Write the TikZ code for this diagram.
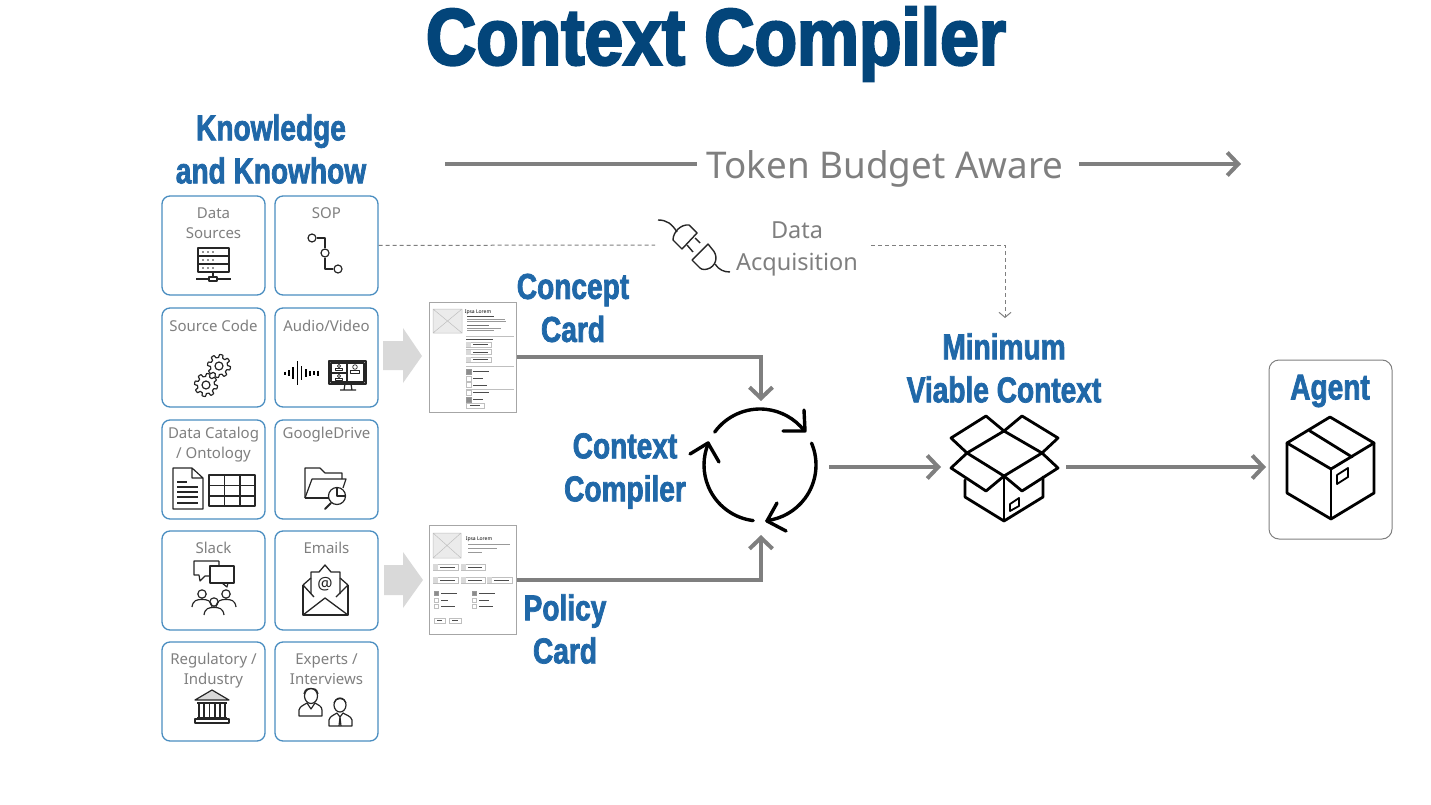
\documentclass[tikz,border=0pt]{standalone}
\usepackage{fontspec}
\usepackage{tikz}
\usetikzlibrary{arrows.meta}
\setmainfont{Noto Sans}
\newfontfamily\headfont[BoldFeatures={FakeStretch=0.78,FakeBold=2}]{Liberation Sans}
\newfontfamily\titlefont[BoldFeatures={FakeStretch=0.87,FakeBold=3}]{Liberation Sans}
\definecolor{titleblue}{HTML}{03457A}
\definecolor{headblue}{HTML}{2068A8}
\definecolor{boxblue}{HTML}{4A8DC0}
\definecolor{flowgray}{HTML}{7F7F7F}
\definecolor{cardgray}{HTML}{A6A6A6}
\definecolor{padgray}{HTML}{D9D9D9}
\tikzset{
    srcbox/.style={draw=boxblue, rounded corners=8, line width=1.3, minimum width=103pt, minimum height=99pt, inner sep=0},
    srctext/.style={anchor=north, inner sep=0, align=center, text=flowgray, font=\fontsize{15}{19.8}\selectfont},
    heading/.style={inner sep=0, align=center, text=headblue, font=\headfont\bfseries\fontsize{36}{43}\selectfont},
    flow/.style={draw=flowgray, line width=4, -{Straight Barb[length=11pt,width=23pt]}},
    dashflow/.style={draw=flowgray, line width=1, dash pattern=on 4pt off 3pt},
    icon/.style={draw=black!85, line width=1.2, line join=round},
    bold/.style={draw=black, line width=2.8, line join=round, line cap=round},
    cycle/.style={draw=black, line width=3.4, line cap=round, line join=round},
    block/.style={fill=padgray, draw=none},
    cardbox/.style={draw=cardgray, fill=white, line width=0.9, inner sep=0},
    ink/.style={draw=black!70, line width=0.8},
    pale/.style={draw=black!40, line width=0.7},
    field/.style={draw=black!25, line width=0.5},
    tick/.style={draw=black!40, fill=black!45, line width=0.5}
}
\newcommand{\gearicon}[2]{
    \draw [icon, shift={(#1,#2)}] plot [samples=121, domain=0:360] (\x:{10+max(-1.5,min(1.5,5*sin(8*\x)))}) -- cycle;
    \draw [icon] (#1,#2) circle (4);
}
\newcommand{\personicon}[2]{
    \draw [icon] (#1,#2) circle (4.2);
    \draw [icon] (#1-10,#2+13) .. controls (#1-9,#2+6) and (#1-5,#2+5.5) .. (#1,#2+5.5) .. controls (#1+5,#2+5.5) and (#1+9,#2+6) .. (#1+10,#2+13);
}
\begin{document}
\begin{tikzpicture}[x=1pt, y=-1pt]
    \useasboundingbox (0,0) rectangle (1431,805);

    \node [inner sep=0, text=titleblue, font=\titlefont\bfseries\fontsize{80}{90}\selectfont] (title) at (716,44) {Context Compiler};
    \node [heading] (knowhow) at (271,149) {Knowledge\\and Knowhow};

    \node [inner sep=0, text=flowgray, font=\fontsize{36.8}{40}\selectfont] (budget) at (885,169) {Token Budget Aware};
    \coordinate (budgetstart) at (445,164);
    \coordinate (budgetleft) at (697,164);
    \coordinate (budgetright) at (1079,164);
    \coordinate (budgetend) at (1241,164);
    \draw [draw=flowgray, line width=4] (budgetstart) -- (budgetleft);
    \draw [flow] (budgetright) -- (budgetend);

    \foreach \nm/\cx/\cy/\ty/\txt in {
        dsrc/213.5/245.5/12.5/{Data\\Sources}, sop/326.5/245.5/12.5/{SOP},
        code/213.5/357.5/12.5/{Source Code}, avid/326.5/357.5/12.5/{Audio/Video},
        catalog/213.5/469.5/8/{Data Catalog\\/ Ontology}, gdrive/326.5/469.5/8/{GoogleDrive},
        slack/213.5/580.5/12/{Slack}, emails/326.5/580.5/12/{Emails},
        regul/213.5/691.5/12/{Regulatory /\\Industry}, experts/326.5/691.5/12/{Experts /\\Interviews}} {
        \node [srcbox] (\nm) at (\cx,\cy) {};
        \node [srctext, yshift=-\ty pt] (\nm txt) at (\nm.north) {\txt};
    }

    % data sources
    \foreach \ry in {248,256,264} {
        \draw [icon] (198,\ry) rectangle (229,\ry+8);
        \foreach \rx in {203,208,213}
            \fill [black!85] (\rx,\ry+4) circle (0.8);
    }
    \draw [icon] (213,272) -- (213,277);
    \draw [icon] (196,279) -- (209,279) (217,279) -- (231,279);
    \draw [icon] (209,277) rectangle (217,281);

    % sop
    \node [icon, circle, inner sep=0, minimum size=8pt] (S1) at (312,238) {};
    \node [icon, circle, inner sep=0, minimum size=8pt] (S2) at (325,253) {};
    \node [icon, circle, inner sep=0, minimum size=8pt] (S3) at (338,269) {};
    \draw [icon] (S1) -| (S2);
    \draw [icon] (S2) |- (S3);

    % source code
    \gearicon{219}{366}
    \gearicon{206}{385}

    % audio, video
    \foreach \wx/\wh in {285/1.5,289/3,293/6,297.5/12,301.5/7,306/4,310/2.5,314/1.7,318/2.5}
        \draw [draw=black, line width=1.6] (\wx,373-\wh) -- (\wx,373+\wh);
    \draw [icon] (329,361) rectangle (366,384);
    \draw [icon] (331,363) rectangle (364,382);
    \draw [icon] (347,363) -- (347,382) (331,373) -- (347,373);
    \draw [icon] (345,384) -- (344,390) (351,384) -- (352,390) (340,390) -- (356,390);
    \foreach \px/\py/\pr in {339/366/1.7,339/376/1.7,355/367/2.3} {
        \draw [icon, line width=0.7] (\px,\py) circle (\pr);
        \draw [icon, line width=0.7] (\px-2*\pr,\py+2.6*\pr) -- (\px-2*\pr,\py+1.3*\pr) -- (\px+2*\pr,\py+1.3*\pr) -- (\px+2*\pr,\py+2.6*\pr) -- cycle;
    }

    % data catalog
    \draw [icon] (192,468) -- (173,468) -- (173,509) -- (203,509) -- (203,478) -- (192,468) -- (192,478) -- (203,478);
    \draw [icon] (177,482) -- (187,482);
    \foreach \ly in {487,492,497,503}
        \draw [icon] (177,\ly) -- (198,\ly);
    \draw [icon] (209,475) rectangle (255,506);
    \draw [icon] (224.5,475) -- (224.5,506) (240,475) -- (240,506) (209,485.5) -- (255,485.5) (209,496) -- (255,496);

    % google drive
    \draw [icon] (305,498) -- (305,468) -- (320,468) -- (325,473) -- (342,473) -- (342,479);
    \draw [icon] (305,498) -- (312,479) -- (346,479) -- (343,488);
    \draw [icon] (305,498) -- (329,498);
    \draw [icon] (337,496) circle (8.5);
    \draw [icon] (337,488) -- (337,496) -- (345,496);
    \draw [draw=black!85, line width=2, line cap=round] (331,503) -- (325,509);

    % slack
    \draw [icon] (210,561) -- (194,561) -- (194,575) -- (199,575) -- (200,581) -- (205,576) -- (210,576) (219,561) -- (210,561) (219,561) -- (219,566);
    \draw [icon, fill=white] (210,566) rectangle (234,583);
    \draw [icon] (222,583) -- (227,587) -- (228,583);
    \personicon{202}{594}
    \personicon{226}{594}
    \personicon{214}{602}

    % emails
    \draw [icon, line width=1.3] (303,585) -- (303,615) -- (348,615) -- (348,585);
    \draw [icon, line width=1.3] (303,585) -- (311,578) (340,578) -- (348,585);
    \draw [icon, line width=1.3] (311,594) -- (311,572) -- (319,572) -- (325,565) -- (331,572) -- (340,572) -- (340,594);
    \draw [icon, line width=1.3] (303,615) -- (325,598) -- (348,615);
    \draw [icon, line width=1.3] (303,585) -- (314,597) (348,585) -- (336,597);
    \node [inner sep=0, font=\fontsize{17}{17}\selectfont, text=black!85] (mailat) at (325,584.5) {@};

    % regulatory
    \draw [icon, fill=black!15] (212,690) -- (195,700) -- (229,700) -- cycle;
    \draw [icon] (197,703) -- (227,703);
    \foreach \bx in {199,204,209.5,215,220,225}
        \draw [icon] (\bx,703) -- (\bx,718);
    \draw [icon] (197,718) -- (227,718);
    \draw [icon] (195,719) rectangle (229,723);

    % experts
    \draw [icon] (311,696) ellipse (6.5 and 7.5);
    \draw [icon] (304,694) .. controls (305,689) and (308,688) .. (311,688.5) .. controls (314,688) and (317,689) .. (318,694);
    \draw [icon] (299,716) -- (299,710) .. controls (300,706) and (304,705) .. (307,703) -- (311,709) -- (315,703) .. controls (318,705) and (322,706) .. (322,710) -- (322,716) -- cycle;
    \draw [icon] (340,705) ellipse (6 and 7);
    \draw [icon] (334,703) .. controls (335,697) and (345,697) .. (346,703);
    \draw [icon] (329,726) -- (329,720) .. controls (330,716) and (334,715) .. (337,713) -- (340,717) -- (343,713) .. controls (346,715) and (351,716) .. (352,720) -- (352,726) -- cycle;
    \draw [icon] (340,717) -- (339,726) (340,717) -- (341,726);

    % block arrows
    \fill [block] (383,341) -- (403,341) -- (403,328) -- (422,356) -- (403,383) -- (403,370) -- (383,370) -- cycle;
    \fill [block] (384,565) -- (403,565) -- (403,552) -- (423,580) -- (403,608) -- (403,595) -- (384,595) -- cycle;

    % concept card
    \node [cardbox, minimum width=87pt, minimum height=110pt] (concept) at (473,357) {};
    \fill [black!8] (433,309) rectangle (462,333);
    \draw [field] (433,309) rectangle (462,333) (433,309) -- (462,333) (433,333) -- (462,309);
    \node [inner sep=0, font=\bfseries\fontsize{5}{5}\selectfont] (cname) at (478,312.5) {Ipsa Lorem};
    \draw [ink, line width=1] (467,316) -- (494,316);
    \draw [pale] (467,319) -- (505,319) (467,321.5) -- (506,321.5);
    \draw [draw=black!55, line width=1] (467,325.5) -- (489,325.5);
    \draw [pale] (467,328) -- (501,328) (467,330.5) -- (494,330.5);
    \draw [field] (466,336) -- (514,336) (466,366) -- (514,366) (466,389) -- (514,389);
    \draw [ink] (466,339) -- (493,339);
    \foreach \fy in {342,349.5,357} {
        \draw [field] (466,\fy) rectangle (491,\fy+5);
        \fill [black!15] (466,\fy) rectangle (471,\fy+5);
        \draw [ink] (473,\fy+2.5) -- (488,\fy+2.5);
    }
    \foreach \cy/\ce/\cf in {369/489/tick,376/483/field,382.5/487/field,390/489/field,397/483/tick} {
        \draw [\cf] (466,\cy) rectangle (471,\cy+5);
        \draw [ink] (473,\cy+2.5) -- (\ce,\cy+2.5);
    }
    \draw [field] (466,403) rectangle (484,408);
    \draw [ink, line width=0.5] (470,405.5) -- (480,405.5);

    % policy card
    \node [cardbox, minimum width=87pt, minimum height=109pt] (policy) at (473,580) {};
    \fill [black!8] (433,533) rectangle (461,558);
    \draw [field] (433,533) rectangle (461,558) (433,533) -- (461,558) (433,558) -- (461,533);
    \node [inner sep=0, font=\bfseries\fontsize{5}{5}\selectfont] (pname) at (479,539) {Ipsa Lorem};
    \draw [pale] (468,544) -- (510,544) (468,548) -- (497,548) (468,552) -- (482,552);
    \foreach \fx/\fe/\fy in {433/458/564,461/485/564,433/458/577,461/485/577,487/512/577} {
        \draw [field] (\fx,\fy) rectangle (\fe,\fy+6);
        \fill [black!15] (\fx,\fy) rectangle (\fx+5,\fy+6);
        \draw [ink] (\fx+7,\fy+3) -- (\fe-3,\fy+3);
    }
    \foreach \cx/\cy/\ce/\cf in {434/591/457/tick,434/598/448/field,434/604/455/field,472/591/495/tick,472/598/489/field,472/604/493/field} {
        \draw [\cf] (\cx,\cy) rectangle (\cx+4.5,\cy+4.5);
        \draw [ink] (\cx+7,\cy+2.2) -- (\ce,\cy+2.2);
    }
    \draw [field] (434,618) rectangle (445,623) (449,618) rectangle (461,623);
    \draw [ink, line width=0.5] (437,620.5) -- (442,620.5) (452,620.5) -- (458,620.5);

    \node [heading] (conceptname) at (573,308) {Concept\\Card};
    \node [heading] (policyname) at (565,629) {Policy\\Card};
    \node [heading] (loopname) at (625,471) {Context\\Compiler};
    \node [heading] (mvc) at (1004,368) {Minimum\\Viable Context};

    % data acquisition
    \coordinate (dash1) at (655,245);
    \coordinate (dash2) at (871,245);
    \coordinate (dash3) at (1005,318);
    \draw [dashflow] (sop) -- (dash1);
    \draw [dashflow, -{Straight Barb[length=5pt,width=12pt]}] (dash2) -| (dash3);
    \node [inner sep=0, align=center, text=flowgray, font=\fontsize{23.5}{32}\selectfont] (acq) at (797,249) {Data\\Acquisition};
    \draw [icon, line width=1.4] (658,220) .. controls (667,220) and (672,224) .. (677,232);
    \draw [icon, line width=1.4] (682,249) -- (673,240) .. controls (673,232) and (681,224) .. (689,225) -- (697,233) -- cycle;
    \draw [icon, line width=1.4] (695,238) -- (700,243) (687,245) -- (693,252);
    \draw [icon, line width=1.4] (692,260) -- (708,244) -- (712,249) .. controls (718,255) and (717,264) .. (710,268) .. controls (706,270) and (702,270) .. (700,268) -- cycle;
    \draw [icon, line width=1.4] (715,264) .. controls (719,270) and (724,272) .. (730,272);

    % compiler loop
    \coordinate (cc) at (760,465);
    \draw [cycle] (cc) ++(216:56) arc [start angle=216, end angle=322, radius=56];
    \draw [cycle] (cc) ++(-23:56) arc [start angle=-23, end angle=83, radius=56];
    \draw [cycle] (cc) ++(97:56) arc [start angle=97, end angle=203, radius=56];
    \draw [cycle] (804,410) -- (805,431) -- (783,431);
    \draw [cycle] (777,503) -- (767,521) -- (786,531);
    \draw [cycle] (690,454) -- (708,443) -- (719,462);

    \coordinate (cctop) at (761,401);
    \coordinate (ccbottom) at (761,535);
    \coordinate (ccout) at (829,467);
    \coordinate (mvcin) at (941,467);
    \coordinate (mvcout) at (1066,467);
    \coordinate (agentin) at (1266,467);
    \draw [flow] (concept) -| (cctop);
    \draw [flow] (policy) -| (ccbottom);
    \draw [flow] (ccout) -- (mvcin);
    \draw [flow] (mvcout) -- (agentin);

    % open box
    \draw [bold] (967,453) -- (1004,431) -- (1042,453) -- (1004,476) -- cycle;
    \draw [bold] (967,453) -- (951,438) -- (986,416) -- (1004,431) -- (1022,416) -- (1058,438) -- (1042,453);
    \draw [bold] (967,453) -- (951,468) -- (986,491) -- (1004,476) -- (1022,491) -- (1058,468) -- (1042,453);
    \draw [bold] (965,480) -- (965,497) -- (1004,521) -- (1043,497) -- (1043,477);
    \draw [bold] (1004,476) -- (1004,521);
    \draw [bold, line width=1.8] (1010,504) -- (1019,498) -- (1019,506) -- (1010,511) -- cycle;

    % agent
    \node [draw=flowgray, rounded corners=10, line width=1, minimum width=123pt, minimum height=179pt, inner sep=0] (agent) at (1330.5,449.5) {};
    \node [heading] (agentname) at (1330,391) {Agent};
    \draw [bold] (1330,417) -- (1374,443) -- (1331,469) -- (1287,443) -- cycle;
    \draw [bold] (1287,443) -- (1287,493) -- (1331,519) -- (1374,493) -- (1374,443);
    \draw [bold] (1331,469) -- (1331,519);
    \draw [bold] (1310,431) -- (1352,457);
    \draw [bold, line width=1.8] (1337,475) -- (1348,468) -- (1348,477) -- (1337,484) -- cycle;
\end{tikzpicture}
\end{document}
